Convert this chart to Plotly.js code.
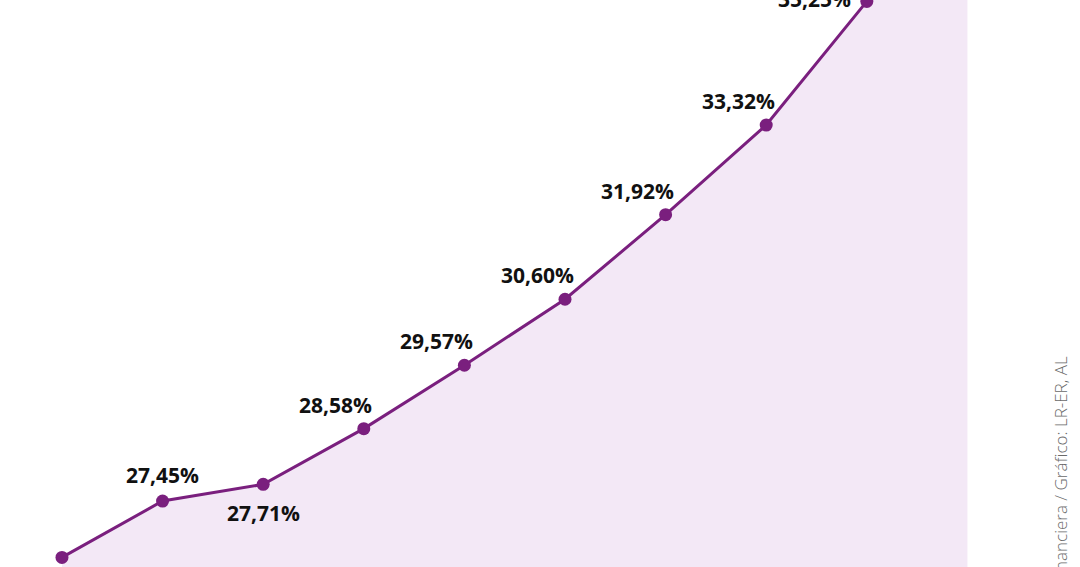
<!DOCTYPE html>
<html>
<head>
<meta charset="utf-8">
<script src="https://cdn.plot.ly/plotly-3.0.1.min.js"></script>
<style>html,body{margin:0;padding:0;background:#fff;}#chart{width:1080px;height:567px;}</style>
</head>
<body>
<div id="chart"></div>
<script>
// Data (the last point continues above the visible frame)
const periods = [0, 1, 2, 3, 4, 5, 6, 7, 8, 9];
const values = [26.57, 27.45, 27.71, 28.58, 29.57, 30.60, 31.92, 33.32, 35.25, 37.2];
const labels = [null, '27,45%', '27,71%', '28,58%', '29,57%', '30,60%', '31,92%', '33,32%', '35,25%', null];
const sourceText = 'Fuente: Superintendencia Financiera / Gráfico: LR-ER, AL';

const purple = '#7a1f7e';
const fillColor = '#f3e8f6';

const traces = [
  {
    x: periods, y: values, type: 'scatter', mode: 'lines',
    line: {color: 'rgba(0,0,0,0)', width: 0},
    fill: 'tozeroy', fillcolor: fillColor, hoverinfo: 'skip', showlegend: false
  },
  {
    x: periods.slice(0, 9), y: values.slice(0, 9), type: 'scatter', mode: 'lines+markers',
    line: {color: purple, width: 3},
    marker: {color: purple, size: 13},
    showlegend: false
  },
  {
    x: periods.slice(8), y: values.slice(8), type: 'scatter', mode: 'lines',
    line: {color: purple, width: 3}, showlegend: false
  }
];

const annotations = [];
labels.forEach((t, i) => {
  if (!t) return;
  let xshift = -28, yshift = 24;
  if (i === 1) { xshift = 0; yshift = 26; }
  if (i === 2) { xshift = 0; yshift = -29; }
  if (i === labels.length - 2) { xshift = -52; yshift = 2; }
  annotations.push({
    x: periods[i], y: values[i], xref: 'x', yref: 'y', text: t, showarrow: false,
    xshift: xshift, yshift: yshift,
    font: {family: 'Open Sans', size: 21, color: '#111', weight: 700}
  });
});
annotations.push({
  xref: 'paper', yref: 'paper', x: 1060/1080, y: 1 - 354/567,
  xanchor: 'center', yanchor: 'top', textangle: -90, showarrow: false,
  text: sourceText,
  font: {family: 'Open Sans', size: 17, color: '#6a6a6a', weight: 300}
});

const layout = {
  width: 1080, height: 567,
  margin: {l: 0, r: 0, t: 0, b: 0},
  paper_bgcolor: '#ffffff', plot_bgcolor: '#ffffff',
  xaxis: {range: [-0.616, 10.119], visible: false, fixedrange: true},
  yaxis: {range: [26.42, 35.272], visible: false, fixedrange: true},
  annotations: annotations,
  showlegend: false
};

Plotly.newPlot('chart', traces, layout, {displayModeBar: false, staticPlot: true});
</script>
</body>
</html>
